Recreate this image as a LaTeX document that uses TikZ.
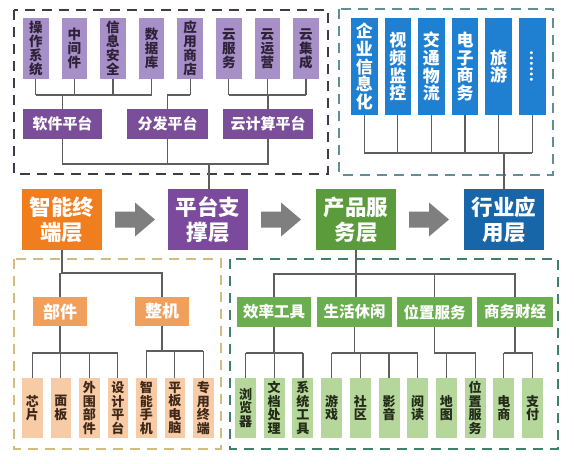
\documentclass[tikz,border=0pt]{standalone}
\usepackage{fontspec}
\setmainfont{Noto Sans CJK SC}
\usetikzlibrary{calc}
\definecolor{pLight}{HTML}{A78FC7}
\definecolor{pMid}{HTML}{7A4E98}
\definecolor{pBig}{HTML}{7B4A9D}
\definecolor{pText}{HTML}{2E2138}
\definecolor{bLeaf}{HTML}{1F80D2}
\definecolor{bBig}{HTML}{1766AA}
\definecolor{oBig}{HTML}{F07D1E}
\definecolor{oMid}{HTML}{F0A05C}
\definecolor{oLeaf}{HTML}{F8CBA7}
\definecolor{oText}{HTML}{3F2818}
\definecolor{gBig}{HTML}{5B9B3C}
\definecolor{gMid}{HTML}{6BAE4F}
\definecolor{gLeaf}{HTML}{B6D79B}
\definecolor{gText}{HTML}{222B18}
\definecolor{arrowc}{HTML}{7F7F7F}
\definecolor{linec}{HTML}{5E5E5E}
\definecolor{dPurple}{HTML}{42384A}
\definecolor{dTeal}{HTML}{628E95}
\definecolor{dOrange}{HTML}{D3BC7E}
\definecolor{dGreen}{HTML}{3F7F6E}
\tikzset{
  bx/.style={anchor=north west, inner sep=0pt, outer sep=0pt, align=center},
  conn/.style={draw=linec, line width=1.2pt},
  dashbox/.style={line width=2.2pt, dash pattern=on 10pt off 7pt},
  bigbox/.style={bx, minimum width=80pt, minimum height=61pt, text=white,
     font=\fontsize{21.5}{25}\selectfont\bfseries},
  topleaf/.style={bx, fill=pLight, minimum width=25.5pt, minimum height=61pt, text=pText,
     font=\fontsize{13.5}{14}\selectfont\bfseries},
  pmid/.style={bx, fill=pMid, minimum height=30pt, text=white,
     font=\fontsize{15}{16}\selectfont\bfseries},
  bleaf/.style={bx, fill=bLeaf, minimum width=26.5pt, minimum height=97pt, text=white,
     font=\fontsize{17}{17.8}\selectfont\bfseries},
  omid/.style={bx, fill=oMid, minimum width=54pt, minimum height=29pt, text=white,
     font=\fontsize{17}{18}\selectfont\bfseries},
  oleaf/.style={bx, fill=oLeaf, minimum width=20.5pt, minimum height=60pt, text=oText,
     font=\fontsize{13}{13.5}\selectfont\bfseries},
  gmid/.style={bx, fill=gMid, minimum height=30pt, text=white,
     font=\fontsize{15.5}{16}\selectfont\bfseries},
  gleaf/.style={bx, fill=gLeaf, minimum width=21pt, minimum height=60pt, text=gText,
     font=\fontsize{13}{13.5}\selectfont\bfseries},
}
\begin{document}
\begin{tikzpicture}[x=1pt,y=-1pt]
\useasboundingbox (0,0) rectangle (574,464);
\fill[white] (0,0) rectangle (574,464);

% dashed frames
\draw[dashbox, draw=dPurple] (14,10) rectangle (328,174);
\draw[dashbox, draw=dTeal] (339,9) rectangle (553,175);
\draw[dashbox, draw=dOrange] (14,259) rectangle (221,449);
\draw[dashbox, draw=dGreen] (230,259) rectangle (558,449);

% bus levels
\coordinate (busP) at (0,95);
\coordinate (busPP) at (0,164);
\coordinate (busB) at (0,153);
\coordinate (busO) at (0,273);
\coordinate (busOa) at (0,353);
\coordinate (busOb) at (0,351);
\coordinate (busG) at (0,274);
\coordinate (busGl) at (0,353);

% big layer boxes
\node[bigbox, fill=oBig] (L1) at (22,189) {智能终\\端层};
\node[bigbox, fill=pBig] (L2) at (168,189) {平台支\\撑层};
\node[bigbox, fill=gBig] (L3) at (316,189) {产品服\\务层};
\node[bigbox, fill=bBig] (L4) at (464,189) {行业应\\用层};

% arrows between layers
\foreach \a in {L1,L2,L3}{
  \fill[arrowc] ($(\a.east)+(13,-8)$) -- ++(20,0) -- ++(0,-9) -- ++(20,17)
     -- ++(-20,17) -- ++(0,-9) -- ++(-20,0) -- cycle;
}

% ---------- platform layer (top left) ----------
\node[topleaf] (s1) at (23,18) {操\\作\\系\\统};
\node[topleaf] (s2) at (61.6,18) {中\\间\\件};
\node[topleaf] (s3) at (100.2,18) {信\\息\\安\\全};
\node[topleaf] (s4) at (138.8,18) {数\\据\\库};
\node[topleaf] (s5) at (177.4,18) {应\\用\\商\\店};
\node[topleaf] (s6) at (216,18) {云\\服\\务};
\node[topleaf] (s7) at (254.6,18) {云\\运\\营};
\node[topleaf] (s8) at (293.2,18) {云\\集\\成};

\node[pmid, minimum width=79pt] (p1) at (23,109) {软件平台};
\node[pmid, minimum width=81pt] (p2) at (127,109) {分发平台};
\node[pmid, minimum width=90pt] (p3) at (223,109) {云计算平台};

\foreach \s in {s1,s2,s3,s4,s5,s6,s7,s8}{
  \draw[conn] (\s.south) -- (\s.south |- busP);
}
\draw[conn] (s1.south |- busP) -- (s4.south |- busP);
\draw[conn] (p1.north) -- (p1.north |- busP);
\draw[conn] (s5.south |- busP) -| (p2.north);
\draw[conn] (s6.south |- busP) -- (s8.south |- busP);
\draw[conn] (p3.north) -- (p3.north |- busP);

\draw[conn] (p1.south) -- (p1.south |- busPP) -- (p3.south |- busPP) -- (p3.south);
\draw[conn] (p2.south) -- (p2.south |- busPP);
\coordinate (jP) at (209,164);
\draw[conn] (jP) -- (jP |- L2.north);

% ---------- industry layer (top right) ----------
\node[bleaf] (b1) at (351,18) {企\\业\\信\\息\\化};
\node[bleaf] (b2) at (384.6,18) {视\\频\\监\\控};
\node[bleaf] (b3) at (418.2,18) {交\\通\\物\\流};
\node[bleaf] (b4) at (451.8,18) {电\\子\\商\\务};
\node[bleaf] (b5) at (485.4,18) {旅\\游};
\node[bleaf] (b6) at (519,18) {\fontsize{14}{14}\selectfont\rotatebox{-90}{……}};
\foreach \b in {b1,b2,b3,b4,b5,b6}{
  \draw[conn] (\b.south) -- (\b.south |- busB);
}
\draw[conn] (b1.south |- busB) -- (b6.south |- busB);
\draw[conn] (L4.north |- busB) -- (L4.north);

% ---------- terminal layer (bottom left) ----------
\node[omid] (o1) at (33,297) {部件};
\node[omid] (o2) at (135,297) {整机};
\draw[conn] (L1.south) -- (L1.south |- busO) -- (o2.north |- busO) -- (o2.north);
\draw[conn] (o1.north |- busO) -- (o1.north);

\node[oleaf] (t1) at (22,378) {芯\\片};
\node[oleaf] (t2) at (50.5,378) {面\\板};
\node[oleaf] (t3) at (79,378) {外\\围\\部\\件};
\node[oleaf] (t4) at (107.5,378) {设\\计\\平\\台};
\node[oleaf] (t5) at (136,378) {智\\能\\手\\机};
\node[oleaf] (t6) at (164.5,378) {平\\板\\电\\脑};
\node[oleaf] (t7) at (193,378) {专\\用\\终\\端};

\draw[conn] (o1.south) -- (o1.south |- busOa);
\draw[conn] (t1.north |- busOa) -- (t4.north |- busOa);
\foreach \t in {t1,t2,t3,t4}{ \draw[conn] (\t.north |- busOa) -- (\t.north); }
\draw[conn] (o2.south) -- (o2.south |- busOb);
\draw[conn] (t5.north |- busOb) -- (t7.north |- busOb);
\foreach \t in {t5,t6,t7}{ \draw[conn] (\t.north |- busOb) -- (\t.north); }

% ---------- product layer (bottom right) ----------
\node[gmid, minimum width=74pt] (m1) at (237,297) {效率工具};
\node[gmid, minimum width=75pt] (m2) at (317,297) {生活休闲};
\node[gmid, minimum width=75pt] (m3) at (397,297) {位置服务};
\node[gmid, minimum width=76pt] (m4) at (477,297) {商务财经};

\draw[conn] (L3.south) -- (L3.south |- m2.north);
\draw[conn] (m1.north) -- (m1.north |- busG) -- (m4.north |- busG) -- (m4.north);
\draw[conn] (m3.north |- busG) -- (m3.north);

\node[gleaf] (g1) at (235,378) {浏\\览\\器};
\node[gleaf] (g2) at (263.7,378) {文\\档\\处\\理};
\node[gleaf] (g3) at (292.4,378) {系\\统\\工\\具};
\node[gleaf] (g4) at (321.1,378) {游\\戏};
\node[gleaf] (g5) at (349.8,378) {社\\区};
\node[gleaf] (g6) at (378.5,378) {影\\音};
\node[gleaf] (g7) at (407.2,378) {阅\\读};
\node[gleaf] (g8) at (435.9,378) {地\\图};
\node[gleaf] (g9) at (464.6,378) {位\\置\\服\\务};
\node[gleaf] (g10) at (493.3,378) {电\\商};
\node[gleaf] (g11) at (522,378) {支\\付};

\draw[conn] (m1.south) -- (m1.south |- busGl);
\draw[conn] (g1.north |- busGl) -- (g3.north |- busGl);
\foreach \g in {g1,g2,g3}{ \draw[conn] (\g.north |- busGl) -- (\g.north); }
\draw[conn] (m2.south) -- (m2.south |- busGl);
\draw[conn] (g4.north |- busGl) -- (g7.north |- busGl);
\foreach \g in {g4,g5,g6,g7}{ \draw[conn] (\g.north |- busGl) -- (\g.north); }
\draw[conn] (m3.south) -- (m3.south |- busGl) -- (g9.north |- busGl) -- (g9.north);
\draw[conn] (g8.north |- busGl) -- (g8.north);
\draw[conn] (m4.south) -- (m4.south |- busGl);
\draw[conn] (g10.north |- busGl) -- (g11.north |- busGl);
\foreach \g in {g10,g11}{ \draw[conn] (\g.north |- busGl) -- (\g.north); }
\end{tikzpicture}
\end{document}
